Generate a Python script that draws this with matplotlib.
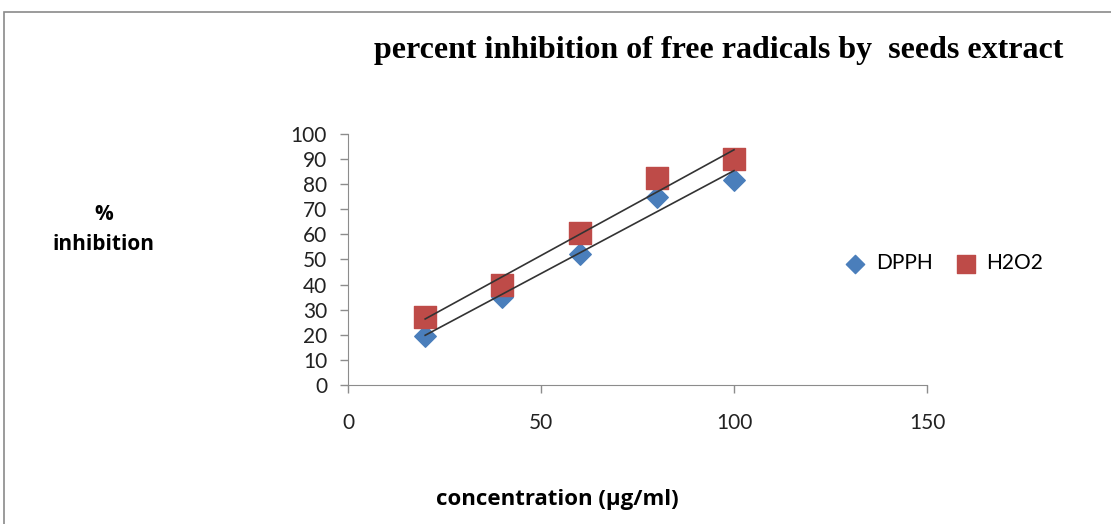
import numpy as np
import matplotlib
matplotlib.use("Agg")
import matplotlib.pyplot as plt
from matplotlib.patches import Rectangle

conc = [20, 40, 60, 80, 100]
dpph = [19.5, 35, 52, 75, 81.5]
h2o2 = [27, 40, 60.5, 82.5, 90]

x_ticks = [0, 50, 100, 150]
y_ticks = list(range(0, 101, 10))

fig = plt.figure(figsize=(11.11, 5.24), dpi=100)
fig.patches.append(Rectangle((0.004, -0.01), 1.2, 0.987, transform=fig.transFigure,
                             fill=False, edgecolor="#8a8a8a", linewidth=1.2))

ax = fig.add_axes([0.3132, 0.2653, 0.5212, 0.479])

ax.scatter(conc, dpph, marker="D", s=120, color="#4a7ebb", label="DPPH", zorder=3)
ax.scatter(conc, h2o2, marker="s", s=240, color="#be4b48", label="H2O2", zorder=3)

# linear trendlines
for ys in (dpph, h2o2):
    k, b = np.polyfit(conc, ys, 1)
    xs = np.array([conc[0], conc[-1]])
    ax.plot(xs, k * xs + b, color="#333333", linewidth=1.2, zorder=4)

ax.set_xlim(0, 150)
ax.set_ylim(0, 100)
ax.set_xticks(x_ticks)
ax.set_yticks(y_ticks)
for s in ("top", "right"):
    ax.spines[s].set_visible(False)
for s in ("left", "bottom"):
    ax.spines[s].set_color("#8c8c8c")
ax.tick_params(colors="#8c8c8c", length=6, width=1)
ax.tick_params(labelcolor="#222222", labelsize=15)
ax.tick_params(axis="x", pad=14)
ax.tick_params(axis="y", pad=9)
for lab in ax.get_xticklabels() + ax.get_yticklabels():
    lab.set_family("Lato")

fig.text(0.647, 0.903, "percent inhibition of free radicals by  seeds extract",
         ha="center", va="center", family="Liberation Serif", weight="bold", fontsize=23)
fig.text(0.093, 0.562, "%\ninhibition", ha="center", va="center",
         family="Open Sans", weight="bold", fontsize=15, linespacing=1.55)
fig.text(0.502, 0.046, "concentration (µg/ml)", ha="center", va="center",
         family="Open Sans", weight="bold", fontsize=16)

ax.legend(loc="center left", bbox_to_anchor=(834 / 1111, 1 - 263 / 524),
          bbox_transform=fig.transFigure, frameon=False, ncol=2,
          prop={"family": "Lato", "size": 15}, handletextpad=0.0, columnspacing=0.6,
          markerscale=0.85, borderaxespad=0.0, borderpad=0.0)

fig.savefig("out.png", dpi=100)
